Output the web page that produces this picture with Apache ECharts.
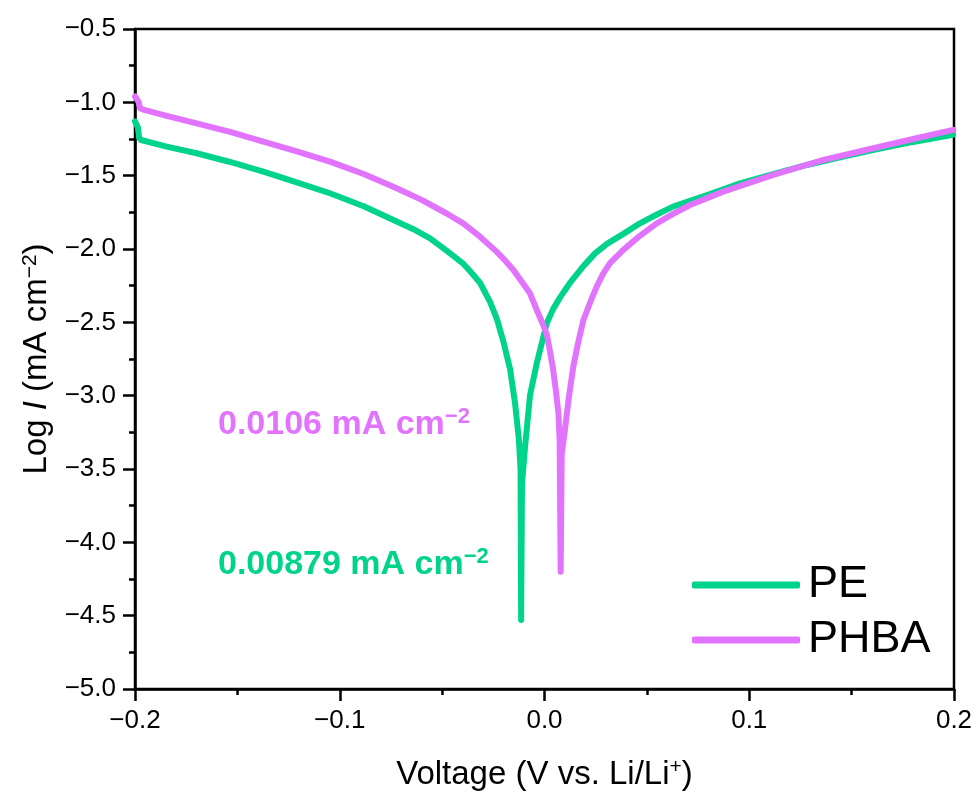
<!DOCTYPE html>
<html>
<head>
<meta charset="utf-8">
<script src="https://cdn.jsdelivr.net/npm/echarts@6/dist/echarts.min.js"></script>
<style>
html,body{margin:0;padding:0;background:#fff;}
#chart{width:979px;height:798px;}
</style>
</head>
<body>
<div id="chart"></div>
<script>
// ---- data ----
const seriesNames = ['PE', 'PHBA'];
const voltagePE = [-0.2000, -0.1993, -0.1986, -0.1980, -0.1970, -0.1850, -0.1699, -0.1540, -0.1373, -0.1210, -0.1048, -0.0880, -0.0722, -0.0640, -0.0559, -0.0480, -0.0397, -0.0364, -0.0315, -0.0266, -0.0232, -0.0201, -0.0168, -0.0144, -0.0125, -0.0117, -0.0114, -0.0110, -0.0095, -0.0071, -0.0038, 0.0011, 0.0042, 0.0076, 0.0125, 0.0188, 0.0247, 0.0305, 0.0393, 0.0466, 0.0549, 0.0628, 0.0794, 0.0955, 0.1116, 0.1282, 0.1443, 0.1604, 0.1800, 0.1995];
const logPE =     [-1.13, -1.15, -1.17, -1.24, -1.257, -1.300, -1.347, -1.405, -1.473, -1.545, -1.620, -1.710, -1.813, -1.865, -1.927, -2.010, -2.100, -2.150, -2.230, -2.360, -2.480, -2.630, -2.820, -3.050, -3.300, -3.500, -4.530, -3.600, -3.350, -3.000, -2.780, -2.506, -2.410, -2.330, -2.230, -2.120, -2.030, -1.965, -1.890, -1.825, -1.765, -1.711, -1.632, -1.552, -1.490, -1.427, -1.375, -1.325, -1.270, -1.222];
const voltagePHBA = [-0.2000, -0.1990, -0.1982, -0.1975, -0.1960, -0.1850, -0.1699, -0.1540, -0.1373, -0.1210, -0.1048, -0.0880, -0.0722, -0.0600, -0.0478, -0.0397, -0.0315, -0.0234, -0.0201, -0.0152, -0.0110, -0.0071, -0.0038, -0.0006, 0.0011, 0.0027, 0.0042, 0.0056, 0.0068, 0.0074, 0.0079, 0.0084, 0.0100, 0.0120, 0.0141, 0.0164, 0.0190, 0.0231, 0.0255, 0.0286, 0.0320, 0.0385, 0.0466, 0.0548, 0.0628, 0.0711, 0.0873, 0.1117, 0.1362, 0.1606, 0.1800, 0.1997];
const logPHBA =     [-0.96, -0.98, -1.00, -1.04, -1.05, -1.090, -1.143, -1.200, -1.268, -1.335, -1.404, -1.490, -1.586, -1.665, -1.758, -1.825, -1.916, -2.018, -2.065, -2.143, -2.225, -2.302, -2.415, -2.520, -2.580, -2.700, -2.820, -2.970, -3.120, -3.300, -4.200, -3.400, -3.230, -3.000, -2.800, -2.640, -2.484, -2.336, -2.257, -2.170, -2.097, -2.006, -1.910, -1.825, -1.760, -1.700, -1.609, -1.495, -1.393, -1.313, -1.250, -1.188];
const xTicks = [-0.2, -0.1, 0.0, 0.1, 0.2];
const yTicks = [-5.0, -4.5, -4.0, -3.5, -3.0, -2.5, -2.0, -1.5, -1.0, -0.5];
const annotations = ['0.0106 mA cm', '0.00879 mA cm'];

// ---- chart ----
const GREEN = '#00d38a';
const MAGENTA = '#e173ff';
const FONT = 'Liberation Sans, Arial, sans-serif';
function fmt(v, d) {
  const s = Math.abs(v).toFixed(d);
  return (v < -1e-9 ? '\u2212' : '') + s;
}
function zip(xs, ys) { return xs.map((x, i) => [x, ys[i]]); }

const chart = echarts.init(document.getElementById('chart'), null, {renderer: 'canvas'});
const axisCommon = {
  axisLine: {show: true, onZero: false, lineStyle: {color: '#000', width: 2.5}},
  axisTick: {show: true, inside: false, length: 12, lineStyle: {color: '#000', width: 2.5}},
  minorTick: {show: true, splitNumber: 2, length: 6, lineStyle: {color: '#000', width: 2.5}},
  splitLine: {show: false},
  minorSplitLine: {show: false}
};
chart.setOption({
  animation: false,
  backgroundColor: '#fff',
  grid: {left: 135, right: 25, top: 29, bottom: 109, show: true, borderColor: '#000', borderWidth: 2.5, containLabel: false},
  xAxis: Object.assign({
    type: 'value', min: xTicks[0], max: xTicks[xTicks.length - 1], interval: 0.1,
    name: '{t|Voltage (V vs. Li/Li}{s|+}{t|)}',
    nameLocation: 'middle', nameGap: 68,
    nameTextStyle: {
      rich: {
        t: {fontFamily: FONT, fontSize: 33, color: '#000'},
        s: {fontFamily: FONT, fontSize: 21, color: '#000', verticalAlign: 'top', padding: [0, 0, 14, 0]}
      }
    },
    axisLabel: {margin: 19, fontFamily: FONT, fontSize: 26, color: '#000', formatter: v => fmt(v, 1)}
  }, axisCommon),
  yAxis: Object.assign({
    type: 'value', min: yTicks[0], max: yTicks[yTicks.length - 1], interval: 0.5,
    name: '{t|Log }{i|I}{t| (mA cm}{s|\u22122}{t|)}',
    nameLocation: 'middle', nameGap: 78,
    nameTextStyle: {
      rich: {
        t: {fontFamily: FONT, fontSize: 33, color: '#000'},
        i: {fontFamily: FONT, fontSize: 33, color: '#000', fontStyle: 'italic'},
        s: {fontFamily: FONT, fontSize: 21, color: '#000', verticalAlign: 'top', padding: [0, 0, 14, 0]}
      }
    },
    axisLabel: {margin: 19, fontFamily: FONT, fontSize: 26, color: '#000', formatter: v => fmt(v, 1)}
  }, axisCommon),
  legend: {
    orient: 'vertical', left: 687, top: 556, itemWidth: 108, itemHeight: 7, itemGap: 7,
    icon: 'roundRect',
    data: seriesNames,
    textStyle: {fontFamily: FONT, fontSize: 45, color: '#000', lineHeight: 48, padding: [0, 0, 0, 3]}
  },
  series: [
    {name: seriesNames[0], type: 'line', data: zip(voltagePE, logPE), showSymbol: false, symbol: 'none', smooth: false,
     lineStyle: {color: GREEN, width: 6, join: 'round', cap: 'round'}, itemStyle: {color: GREEN}, z: 3},
    {name: seriesNames[1], type: 'line', data: zip(voltagePHBA, logPHBA), showSymbol: false, symbol: 'none', smooth: false,
     lineStyle: {color: MAGENTA, width: 6, join: 'round', cap: 'round'}, itemStyle: {color: MAGENTA}, z: 4}
  ],
  graphic: [
    {type: 'text', left: 218, top: 406, style: {
      text: '{a|' + annotations[0] + '}{s|\u22122}',
      rich: {
        a: {fill: MAGENTA, fontFamily: FONT, fontSize: 34, fontWeight: 'bold'},
        s: {fill: MAGENTA, fontFamily: FONT, fontSize: 22, fontWeight: 'bold', verticalAlign: 'top', padding: [0, 0, 15, 0]}
      }}},
    {type: 'text', left: 218, top: 546, style: {
      text: '{a|' + annotations[1] + '}{s|\u22122}',
      rich: {
        a: {fill: GREEN, fontFamily: FONT, fontSize: 34, fontWeight: 'bold'},
        s: {fill: GREEN, fontFamily: FONT, fontSize: 22, fontWeight: 'bold', verticalAlign: 'top', padding: [0, 0, 15, 0]}
      }}}
  ]
});
</script>
</body>
</html>
